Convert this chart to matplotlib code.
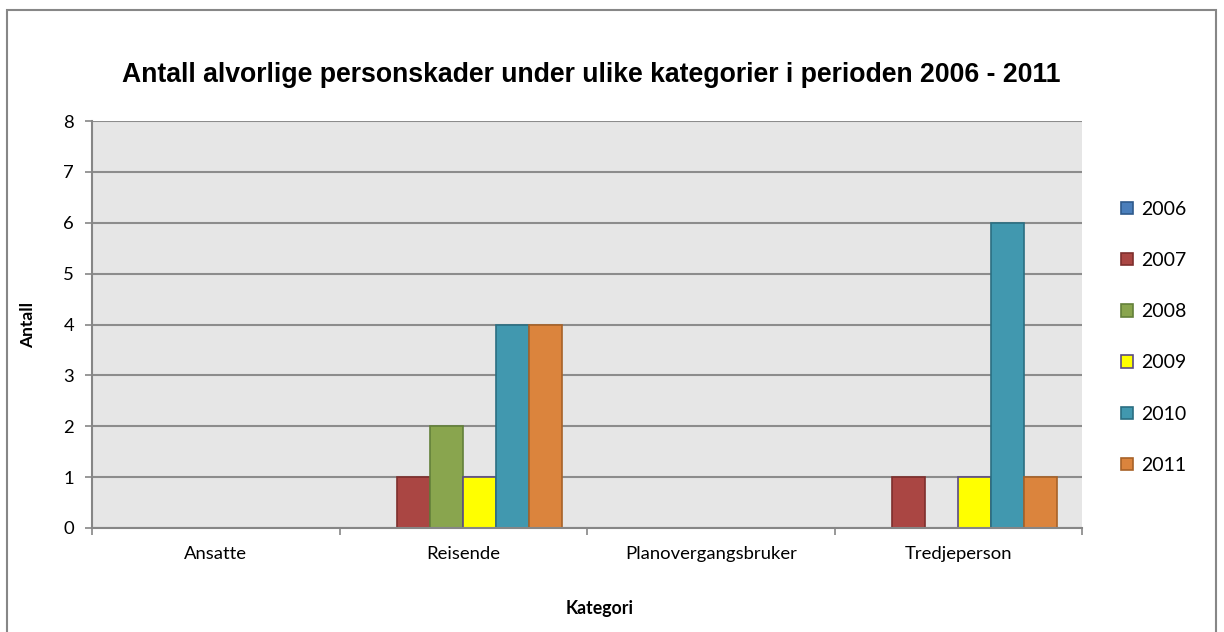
import numpy as np
import matplotlib
matplotlib.use('Agg')
import matplotlib.pyplot as plt
from matplotlib.patches import Rectangle

# data
categories = ['Ansatte', 'Reisende', 'Planovergangsbruker', 'Tredjeperson']
years = ['2006', '2007', '2008', '2009', '2010', '2011']
v2006 = [0, 0, 0, 0]
v2007 = [0, 1, 0, 1]
v2008 = [0, 2, 0, 0]
v2009 = [0, 1, 0, 1]
v2010 = [0, 4, 0, 6]
v2011 = [0, 4, 0, 1]
series = [v2006, v2007, v2008, v2009, v2010, v2011]

faces = ['#4A7EBB', '#AA4643', '#89A54E', '#FFFF00', '#4198AF', '#DB843D']
edges = ['#2F5A8C', '#7E2F2D', '#63803A', '#5A4A86', '#2B6E82', '#A86228']

plt.rcParams['font.family'] = ['Lato', 'DejaVu Sans']

fig = plt.figure(figsize=(12.24, 6.32), dpi=100)
fig.patch.set_facecolor('white')
# outer chart border
fig.add_artist(Rectangle((7 / 1224, -0.05), 1209 / 1224, 1 - 10 / 632 + 0.05,
                         transform=fig.transFigure, fill=False,
                         edgecolor='#878787', linewidth=1.5))

ax = fig.add_axes([92 / 1224, 104 / 632, 990 / 1224, 407 / 632])
ax.set_facecolor('#E6E6E6')

x = np.arange(len(categories))
w = 1 / 7.5
for i, (vals, fc, ec, lab) in enumerate(zip(series, faces, edges, years)):
    h = np.array(vals, dtype=float)
    h[h == 0] = np.nan
    ax.bar(x + (i - 2.5) * w, h, width=w, color=fc, edgecolor=ec,
           linewidth=1.2, label=lab, zorder=3)

ax.set_xlim(-0.5, 3.5)
ax.set_ylim(0, 8)
ax.set_yticks(range(0, 9))
ax.yaxis.grid(True, color='#8C8C8C', linewidth=1.5, zorder=1)
ax.set_axisbelow(True)

ax.set_xticks(x)
ax.set_xticklabels(categories, fontsize=13.3)
ax.tick_params(axis='x', length=0, pad=13)
ax.set_xticks(np.arange(-0.5, 4, 1), minor=True)
ax.tick_params(axis='x', which='minor', length=5, color='#868686', width=1.2)
ax.tick_params(axis='y', length=5, color='#868686', width=1.2, labelsize=13.3, pad=8)

for s in ['top', 'right']:
    ax.spines[s].set_visible(False)
for s in ['left', 'bottom']:
    ax.spines[s].set_color('#868686')
    ax.spines[s].set_linewidth(1.5)
    ax.spines[s].set_zorder(4)

ax.set_ylabel('Antall', fontsize=12.5, fontweight='bold')
ax.yaxis.set_label_coords(-56 / 990, 0.5)
ax.set_xlabel('Kategori', fontsize=12.8, fontweight='bold')
ax.xaxis.set_label_coords(508 / 990, -72 / 407)

fig.text(591 / 1224, 1 - 75 / 632,
         'Antall alvorlige personskader under ulike kategorier i perioden 2006 - 2011',
         ha='center', va='center', fontsize=19.2, fontweight='bold',
         family=['Liberation Sans', 'DejaVu Sans'])

handles, labels = ax.get_legend_handles_labels()
leg = fig.legend(handles, labels, loc='upper left', bbox_to_anchor=(1113 / 1224, 1 - 193 / 632),
                 frameon=False, fontsize=14, labelspacing=1.76,
                 handlelength=0.62, handleheight=0.62, handletextpad=0.45,
                 borderaxespad=0)

fig.savefig('out.png', dpi=100)
